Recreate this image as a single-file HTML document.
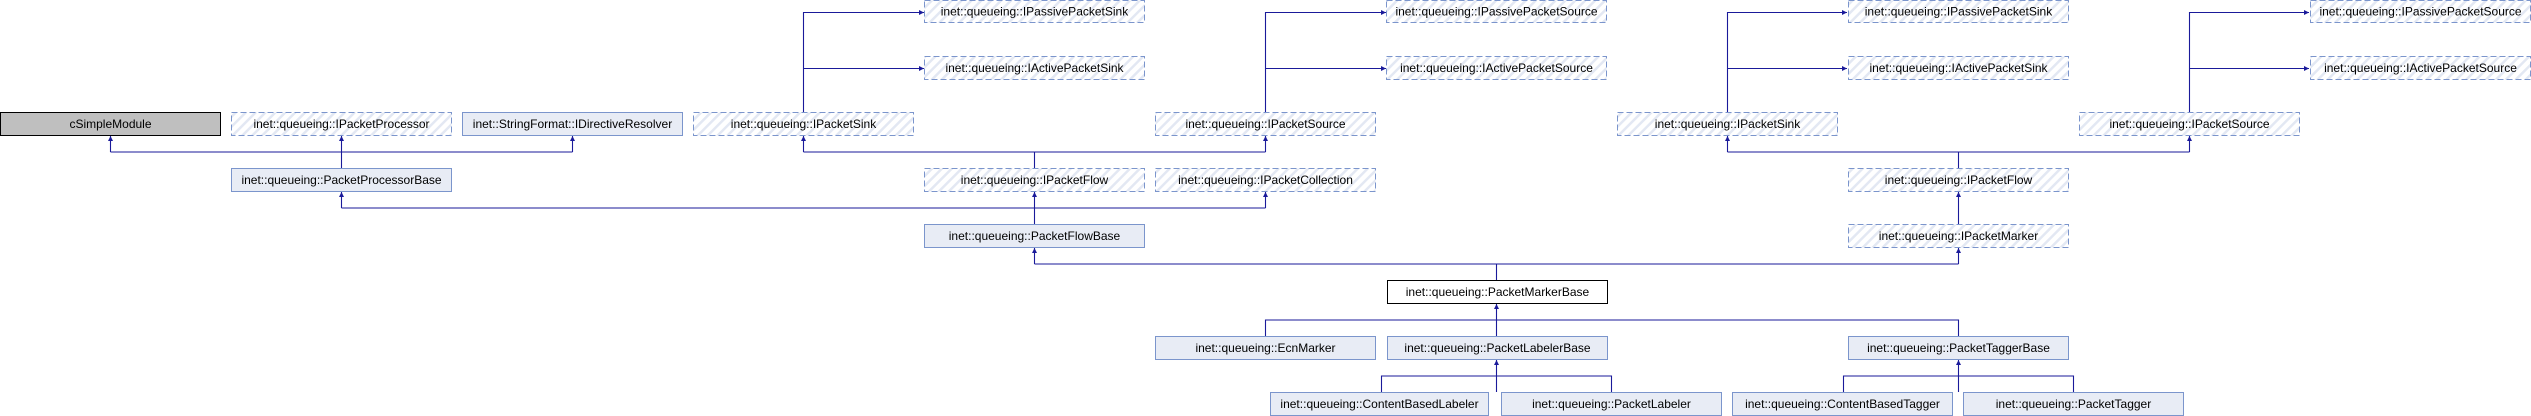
<!DOCTYPE html>
<html><head><meta charset="utf-8"><style>
html,body{margin:0;padding:0;background:#fff;}
svg{display:block;}
text{font-family:"Liberation Sans",sans-serif;font-size:12px;fill:#000;text-anchor:middle;}
</style></head><body>
<svg width="2531" height="416" viewBox="0 0 2531 416" xmlns="http://www.w3.org/2000/svg">
<defs>
<pattern id="h" patternUnits="userSpaceOnUse" width="7" height="7" patternTransform="rotate(45)">
<rect width="7" height="7" fill="#fff"/>
<rect width="2.5" height="7" fill="#e3e8f3"/>
</pattern>
<marker id="a" viewBox="0 0 10 10" refX="10" refY="5" markerWidth="5" markerHeight="5" orient="auto" markerUnits="userSpaceOnUse">
<path d="M0,0 L10,5 L0,10 z" fill="#1a1a9a"/>
</marker>
</defs>
<g fill="none" stroke="#1a1a9a" stroke-width="1.1">
<path d="M341.5,168 V152 M110.5,152 H572.5 M110.5,152 V136" marker-end="url(#a)"/>
<path d="M341.5,152 V136" marker-end="url(#a)"/>
<path d="M572.5,152 V136" marker-end="url(#a)"/>
<path d="M1034.5,224 V208 M341.5,208 H1265.5 M341.5,208 V192" marker-end="url(#a)"/>
<path d="M1034.5,208 V192" marker-end="url(#a)"/>
<path d="M1265.5,208 V192" marker-end="url(#a)"/>
<path d="M1034.5,168 V152 M803.5,152 H1265.5 M803.5,152 V136" marker-end="url(#a)"/>
<path d="M1265.5,152 V136" marker-end="url(#a)"/>
<path d="M803.5,112 V12.5 H924" marker-end="url(#a)"/>
<path d="M803.5,68.5 H924" marker-end="url(#a)"/>
<path d="M1265.5,112 V12.5 H1386" marker-end="url(#a)"/>
<path d="M1265.5,68.5 H1386" marker-end="url(#a)"/>
<path d="M1496.5,280 V264 M1034.5,264 H1958.5 M1034.5,264 V248" marker-end="url(#a)"/>
<path d="M1958.5,264 V248" marker-end="url(#a)"/>
<path d="M1958.5,224 V192" marker-end="url(#a)"/>
<path d="M1958.5,168 V152 M1727.5,152 H2189.5 M1727.5,152 V136" marker-end="url(#a)"/>
<path d="M2189.5,152 V136" marker-end="url(#a)"/>
<path d="M1727.5,112 V12.5 H1847" marker-end="url(#a)"/>
<path d="M1727.5,68.5 H1847" marker-end="url(#a)"/>
<path d="M2189.5,112 V12.5 H2309" marker-end="url(#a)"/>
<path d="M2189.5,68.5 H2309" marker-end="url(#a)"/>
<path d="M1265.5,336 V320 H1958.5 V336 M1496.5,336 V304" marker-end="url(#a)"/>
<path d="M1381.5,392 V376 H1611.5 V392 M1496.5,392 V360" marker-end="url(#a)"/>
<path d="M1843.5,392 V376 H2073.5 V392 M1958.5,392 V360" marker-end="url(#a)"/>
</g>
<g stroke-width="1">
<rect x="0.5" y="112.5" width="220" height="23" fill="#bfbfbf" stroke="#000"/>
<rect x="1387.5" y="280.5" width="220" height="23" fill="#fff" stroke="#000"/>
<g fill="#e8ecf5" stroke="#7b95cc">
<rect x="462.5" y="112.5" width="220" height="23"/>
<rect x="231.5" y="168.5" width="220" height="23"/>
<rect x="924.5" y="224.5" width="220" height="23"/>
<rect x="1155.5" y="336.5" width="220" height="23"/>
<rect x="1387.5" y="336.5" width="220" height="23"/>
<rect x="1848.5" y="336.5" width="220" height="23"/>
<rect x="1270.5" y="392.5" width="218" height="23"/>
<rect x="1501.5" y="392.5" width="220" height="23"/>
<rect x="1732.5" y="392.5" width="220" height="23"/>
<rect x="1963.5" y="392.5" width="220" height="23"/>
</g>
<g fill="url(#h)" stroke="#7b95cc" stroke-dasharray="6,3">
<rect x="231.5" y="112.5" width="220" height="23"/>
<rect x="693.5" y="112.5" width="220" height="23"/>
<rect x="924.5" y="0.5" width="220" height="22"/>
<rect x="924.5" y="56.5" width="220" height="23"/>
<rect x="1155.5" y="112.5" width="220" height="23"/>
<rect x="1386.5" y="0.5" width="220" height="22"/>
<rect x="1386.5" y="56.5" width="220" height="23"/>
<rect x="924.5" y="168.5" width="220" height="23"/>
<rect x="1155.5" y="168.5" width="220" height="23"/>
<rect x="1617.5" y="112.5" width="220" height="23"/>
<rect x="1848.5" y="0.5" width="220" height="22"/>
<rect x="1848.5" y="56.5" width="220" height="23"/>
<rect x="2079.5" y="112.5" width="220" height="23"/>
<rect x="2310.5" y="0.5" width="220" height="22"/>
<rect x="2310.5" y="56.5" width="220" height="23"/>
<rect x="1848.5" y="168.5" width="220" height="23"/>
<rect x="1848.5" y="224.5" width="220" height="23"/>
</g>
</g>
<text x="110.5" y="128">cSimpleModule</text>
<text x="341.5" y="128">inet::queueing::IPacketProcessor</text>
<text x="572.5" y="128">inet::StringFormat::IDirectiveResolver</text>
<text x="803.5" y="128">inet::queueing::IPacketSink</text>
<text x="1265.5" y="128">inet::queueing::IPacketSource</text>
<text x="1727.5" y="128">inet::queueing::IPacketSink</text>
<text x="2189.5" y="128">inet::queueing::IPacketSource</text>
<text x="1034.5" y="15.5">inet::queueing::IPassivePacketSink</text>
<text x="1034.5" y="72">inet::queueing::IActivePacketSink</text>
<text x="1496.5" y="15.5">inet::queueing::IPassivePacketSource</text>
<text x="1496.5" y="72">inet::queueing::IActivePacketSource</text>
<text x="1958.5" y="15.5">inet::queueing::IPassivePacketSink</text>
<text x="1958.5" y="72">inet::queueing::IActivePacketSink</text>
<text x="2420.5" y="15.5">inet::queueing::IPassivePacketSource</text>
<text x="2420.5" y="72">inet::queueing::IActivePacketSource</text>
<text x="341.5" y="184">inet::queueing::PacketProcessorBase</text>
<text x="1034.5" y="184">inet::queueing::IPacketFlow</text>
<text x="1265.5" y="184">inet::queueing::IPacketCollection</text>
<text x="1958.5" y="184">inet::queueing::IPacketFlow</text>
<text x="1034.5" y="240">inet::queueing::PacketFlowBase</text>
<text x="1958.5" y="240">inet::queueing::IPacketMarker</text>
<text x="1497.5" y="296">inet::queueing::PacketMarkerBase</text>
<text x="1265.5" y="352">inet::queueing::EcnMarker</text>
<text x="1497.5" y="352">inet::queueing::PacketLabelerBase</text>
<text x="1958.5" y="352">inet::queueing::PacketTaggerBase</text>
<text x="1379.5" y="408">inet::queueing::ContentBasedLabeler</text>
<text x="1611.5" y="408">inet::queueing::PacketLabeler</text>
<text x="1842.5" y="408">inet::queueing::ContentBasedTagger</text>
<text x="2073.5" y="408">inet::queueing::PacketTagger</text>
</svg>
</body></html>
